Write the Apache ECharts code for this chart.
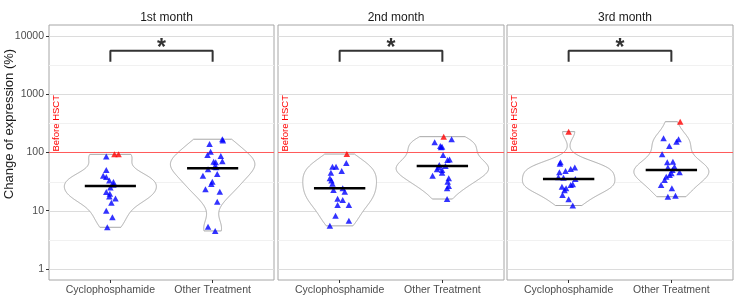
<!DOCTYPE html>
<html>
<head>
<meta charset="utf-8">
<script src="https://cdn.jsdelivr.net/npm/echarts@6/dist/echarts.min.js"></script>
<style>
  html, body { margin: 0; padding: 0; background: #fff; }
  #chart { width: 750px; height: 305px; }
</style>
</head>
<body>
<div id="chart"></div>
<script>
const months = ["1st month", "2nd month", "3rd month"];
const groups = ["Cyclophosphamide", "Other Treatment"];
const yTicks = [1, 10, 100, 1000, 10000];
const yMinor = [3.162, 31.62, 316.2, 3162];
const refLevel = 100;
const refLabel = "Before HSCT";
const yTitle = "Change of expression (%)";

// month 1
const m1CycloVal = [93, 93, 85, 50, 40, 38, 33, 31, 28, 25, 21, 19.5, 17.5, 16.3, 13.7, 10, 7.7, 5.2];
const m1CycloJit = [0.04, 0.08, -0.04, -0.04, -0.07, -0.04, -0.01, 0.03, 0.03, 0.0, -0.04, -0.005, -0.01, 0.05, 0.01, -0.04, 0.02, -0.03];
const m1CycloRed = [0, 1];
const m1OtherVal = [169, 160, 140, 103, 91, 87, 71, 69.5, 68, 57, 55.7, 51.4, 42.8, 40, 31.5, 28.8, 23.4, 21.2, 14.3, 5.3, 4.5];
const m1OtherJit = [0.095, 0.1, -0.03, -0.02, -0.05, 0.08, 0.095, 0.01, 0.03, 0.02, 0.035, -0.045, 0.045, -0.095, -0.003, -0.013, -0.07, 0.07, 0.045, -0.045, 0.025];
const m1OtherRed = [];

// month 2
const m2CycloVal = [94, 66, 57, 57, 48, 45, 36, 33, 29, 24.3, 22.7, 21.2, 16, 15.3, 12.6, 12.6, 8.2, 6.7, 5.5];
const m2CycloJit = [0.07, 0.065, -0.07, -0.035, 0.02, -0.085, -0.095, -0.08, -0.07, 0.03, -0.06, 0.05, -0.02, 0.03, -0.02, 0.09, -0.04, 0.09, -0.095];
const m2CycloRed = [0];
const m2OtherVal = [187, 169, 150, 129, 126, 123, 91, 76, 74, 61, 58.7, 55.7, 51.4, 50, 45, 40, 36, 31.5, 26.6, 24.3, 15.9];
const m2OtherJit = [0.013, 0.09, -0.075, -0.02, -0.003, -0.013, 0.007, 0.07, 0.05, -0.03, 0.03, -0.036, -0.052, -0.003, -0.003, -0.095, 0.062, 0.052, 0.062, 0.046, 0.046];
const m2OtherRed = [0];

// month 3
const m3CycloVal = [228, 68, 64, 55, 52, 48, 45.7, 37.5, 37, 35, 28.5, 27.7, 25.9, 24.3, 22.5, 18.6, 15.7, 12.3];
const m3CycloJit = [0, -0.08, -0.085, 0.06, 0.02, -0.03, -0.09, -0.1, -0.05, 0.065, 0.04, 0.02, -0.065, -0.025, -0.04, -0.06, 0, 0.04];
const m3CycloRed = [0];
const m3OtherVal = [338, 175, 169, 153, 129, 93, 69.5, 68, 57, 55, 50, 45.7, 44, 41, 38.4, 33.7, 27.7, 24.3, 18.1, 17.4];
const m3OtherJit = [0.086, -0.076, 0.07, 0.05, -0.02, -0.09, 0.015, -0.04, 0.03, -0.034, 0.01, 0.08, 0, -0.017, -0.05, -0.066, -0.1, 0.005, 0.04, -0.034];
const m3OtherRed = [0];

const medians = [[26.6, 53.6], [24.3, 58.7], [35, 50]];
const bracketLow = 3600;
const bracketHigh = 5600;
const starLevel = 7600;

const panelData = [
  [[m1CycloVal, m1CycloJit, m1CycloRed], [m1OtherVal, m1OtherJit, m1OtherRed]],
  [[m2CycloVal, m2CycloJit, m2CycloRed], [m2OtherVal, m2OtherJit, m2OtherRed]],
  [[m3CycloVal, m3CycloJit, m3CycloRed], [m3OtherVal, m3OtherJit, m3OtherRed]]
];

const FONT = "'Liberation Sans', Arial, sans-serif";
const gridLeft = [49, 278, 507];
const gridWidth = [225, 226, 226];
const yMin = 0.647, yMax = 15450;

// gaussian density on log10 scale, trimmed to data range (like geom_violin)
function density(vals) {
  const xs = vals.map(v => Math.log10(v));
  const n = xs.length;
  const mean = xs.reduce((a, b) => a + b, 0) / n;
  const sd = Math.sqrt(xs.reduce((a, b) => a + (b - mean) * (b - mean), 0) / (n - 1));
  const s = xs.slice().sort((a, b) => a - b);
  const q = p => {
    const h = (n - 1) * p, lo = Math.floor(h);
    return s[lo] + (h - lo) * (s[Math.min(lo + 1, n - 1)] - s[lo]);
  };
  const bw = 0.9 * Math.min(sd, (q(0.75) - q(0.25)) / 1.34) * Math.pow(n, -0.2);
  const out = [];
  for (let i = 0; i < 200; i++) {
    const y = s[0] + (s[n - 1] - s[0]) * i / 199;
    let d = 0;
    for (const x of xs) d += Math.exp(-0.5 * ((y - x) / bw) ** 2);
    out.push([y, d / (n * bw * Math.sqrt(2 * Math.PI))]);
  }
  return out;
}

const profiles = panelData.map(pd => {
  const dens = pd.map(g => density(g[0]));
  const mx = Math.max(...dens.map(d => Math.max(...d.map(p => p[1]))));
  return dens.map(d => d.map(p => [p[0], p[1] / mx * 0.45]));
});

const grids = [], xAxes = [], yAxes = [], series = [], titles = [];

months.forEach((m, p) => {
  grids.push({
    left: gridLeft[p], top: 25, width: gridWidth[p], height: 255,
    outerBoundsMode: "none", containLabel: false,
    show: true, borderColor: "#a6a6a6", borderWidth: 1, backgroundColor: "#fff"
  });
  titles.push({
    text: m, left: gridLeft[p] + gridWidth[p] / 2, top: 7, textAlign: "center",
    textStyle: { fontSize: 12, fontWeight: "normal", color: "#1a1a1a", fontFamily: FONT }
  });
  xAxes.push({
    type: "value", gridIndex: p, min: 0.4, max: 2.6,
    axisLine: { show: false },
    splitLine: { show: false },
    axisTick: { show: true, length: 3, customValues: [1, 2], lineStyle: { color: "#333" } },
    axisLabel: {
      customValues: [1, 2], margin: 5, color: "#4d4d4d", fontSize: 10.5, fontFamily: FONT,
      formatter: v => groups[Math.round(v) - 1]
    }
  });
  yAxes.push({
    type: "log", logBase: 10, gridIndex: p, min: yMin, max: yMax,
    axisLine: { show: false },
    splitLine: { show: false },
    axisTick: { show: p === 0, length: 3, customValues: yTicks, lineStyle: { color: "#333" } },
    axisLabel: {
      show: p === 0, customValues: yTicks, margin: 5, color: "#4d4d4d", fontSize: 10.5, fontFamily: FONT,
      formatter: v => String(Math.round(v))
    }
  });

  // grid lines
  series.push({
    type: "custom", xAxisIndex: p, yAxisIndex: p, silent: true, z: 1,
    data: yTicks.map(v => [1.5, v, 1]).concat(yMinor.map(v => [1.5, v, 0])),
    renderItem: (params, api) => {
      const cs = params.coordSys;
      const y = Math.round(api.coord([1.5, api.value(1)])[1]) + 0.5;
      const major = api.value(2) === 1;
      return {
        type: "line",
        shape: { x1: cs.x, y1: y, x2: cs.x + cs.width, y2: y },
        style: { stroke: major ? "#dcdcdc" : "#f1f1f1", lineWidth: 1 }
      };
    }
  });

  // violins
  series.push({
    type: "custom", xAxisIndex: p, yAxisIndex: p, silent: true, z: 2,
    data: [[1, 1], [2, 1]],
    renderItem: (params, api) => {
      const g = params.dataIndex, cx = g + 1, prof = profiles[p][g];
      const left = prof.map(q => api.coord([cx - q[1], Math.pow(10, q[0])]));
      const right = prof.slice().reverse().map(q => api.coord([cx + q[1], Math.pow(10, q[0])]));
      return {
        type: "polygon",
        shape: { points: left.concat(right) },
        style: { fill: "#fff", stroke: "#a8a8a8", lineWidth: 1 }
      };
    }
  });

  // reference line + label
  series.push({
    type: "custom", xAxisIndex: p, yAxisIndex: p, silent: true, z: 3,
    data: [[0.475, refLevel]],
    renderItem: (params, api) => {
      const cs = params.coordSys;
      const pt = api.coord([api.value(0), api.value(1)]);
      return {
        type: "group",
        children: [
          { type: "line", shape: { x1: cs.x, y1: pt[1], x2: cs.x + cs.width, y2: pt[1] },
            style: { stroke: "#ff5a5a", lineWidth: 1 } },
          { type: "text", x: pt[0], y: pt[1] - 1, rotation: Math.PI / 2,
            style: { text: refLabel, fill: "#ff0000", fontSize: 9.5, fontFamily: FONT,
                     align: "left", verticalAlign: "middle" } }
        ]
      };
    }
  });

  // points
  const pts = [];
  panelData[p].forEach((g, gi) => {
    g[0].forEach((v, i) => {
      pts.push({
        value: [gi + 1 + g[1][i], v],
        itemStyle: { color: g[2].includes(i) ? "#ff0000" : "#0000ff" }
      });
    });
  });
  series.push({
    type: "scatter", xAxisIndex: p, yAxisIndex: p, silent: true, z: 4,
    symbol: "triangle", symbolSize: [6.5, 6], data: pts
  });

  // medians
  series.push({
    type: "custom", xAxisIndex: p, yAxisIndex: p, silent: true, z: 5,
    data: medians[p].map((v, gi) => [gi + 1, v]),
    renderItem: (params, api) => {
      const a = api.coord([api.value(0) - 0.25, api.value(1)]);
      const b = api.coord([api.value(0) + 0.25, api.value(1)]);
      return { type: "line", shape: { x1: a[0], y1: a[1], x2: b[0], y2: b[1] },
               style: { stroke: "#000", lineWidth: 2.5 } };
    }
  });

  // significance bracket
  series.push({
    type: "line", xAxisIndex: p, yAxisIndex: p, silent: true, z: 5,
    symbol: "none", animation: false,
    lineStyle: { color: "#333", width: 2 },
    data: [[1, bracketLow], [1, bracketHigh], [2, bracketHigh], [2, bracketLow]]
  });
  series.push({
    type: "custom", xAxisIndex: p, yAxisIndex: p, silent: true, z: 5,
    data: [[1.5, starLevel]],
    renderItem: (params, api) => {
      const pt = api.coord([api.value(0), api.value(1)]);
      // asterisk glyph sits high in its em box, so shift the anchor down
      return { type: "text", x: pt[0], y: pt[1] + 6,
               style: { text: "*", fill: "#333", fontSize: 23, fontWeight: "bold", fontFamily: FONT,
                        align: "center", verticalAlign: "middle" } };
    }
  });
});

const chart = echarts.init(document.getElementById("chart"), null, { renderer: "canvas" });
chart.setOption({
  animation: false,
  backgroundColor: "#fff",
  textStyle: { fontFamily: FONT },
  title: titles,
  grid: grids,
  xAxis: xAxes,
  yAxis: yAxes,
  series: series,
  graphic: [{
    type: "text", x: 9, y: 124, rotation: Math.PI / 2,
    style: { text: yTitle, fill: "#1a1a1a", fontSize: 13, fontFamily: FONT,
             align: "center", verticalAlign: "middle" }
  }]
});
</script>
</body>
</html>
